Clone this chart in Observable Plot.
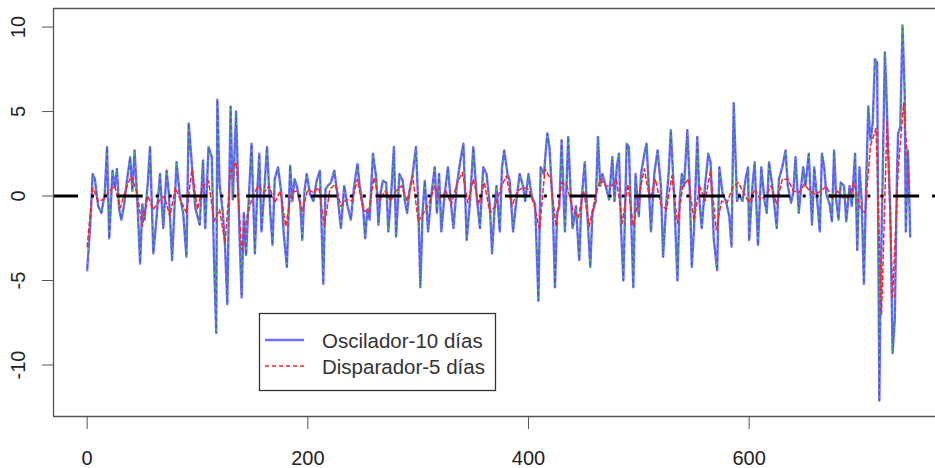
<!DOCTYPE html>
<html>
<head>
<meta charset="utf-8">
<script src="https://cdn.jsdelivr.net/npm/d3@7"></script>
<script src="https://cdn.jsdelivr.net/npm/@observablehq/plot@0.6"></script>
<style>
  html, body { margin: 0; padding: 0; background: #fff; }
  #chart { position: relative; width: 935px; height: 468px; }
</style>
</head>
<body>
<div id="chart"></div>
<script>
// Oscillator (10 days) – day index and value
const oscDays = [0,3,5,7,10,13,16,18,20,23,25,27,29,31,34,36,39,41,43,46,48,50,52,55,57,60,63,66,69,72,74,77,81,84,87,90,92,95,98,102,105,107,110,113,115,117,118,120,123,125,127,130,132,135,138,140,142,144,147,149,152,154,156,158,161,163,166,168,170,173,176,178,181,184,186,188,190,193,195,197,199,202,205,208,211,214,216,218,221,224,227,230,233,236,239,242,245,247,250,252,254,256,259,262,264,266,268,271,273,276,278,280,283,286,288,290,292,295,298,300,302,304,306,309,312,315,317,319,321,324,327,330,332,335,338,341,344,347,350,353,356,359,362,365,367,369,371,374,376,378,381,383,386,389,392,395,397,400,403,406,409,411,414,417,419,422,424,426,428,430,433,436,438,440,443,446,448,451,453,456,458,461,463,465,467,470,473,476,478,480,482,484,486,489,491,493,495,497,500,502,505,507,509,511,514,517,520,522,525,527,529,532,535,537,539,541,544,546,548,550,553,555,557,560,563,565,568,571,573,576,579,582,584,586,589,591,594,597,599,600,603,605,608,611,614,616,618,621,625,627,630,633,635,638,640,642,645,647,649,651,654,657,659,662,664,666,668,670,673,675,677,679,681,683,686,688,691,693,696,698,700,702,704,706,708,710,712,714,716,718,719,721,723,724,726,728,730,732,734,735,737,739,741,742,744,746];
const oscValues = [-4.4,-1.5,1.3,1.0,-0.6,-1.0,0.2,2.9,-2.5,1.5,0.5,1.6,-0.8,-1.4,-0.3,0.9,2.3,0.3,2.7,-1.0,-4.0,-0.5,-1.4,0.8,2.9,-3.4,-1.2,1.3,-1.9,1.5,0.2,-3.8,2.0,0.0,-1.0,-3.6,4.3,1.8,-0.7,-1.7,2.1,-1.9,2.9,2.3,-3.8,-8.1,5.7,0.7,-1.0,-3.0,-6.4,5.3,-0.2,5.0,-2.1,-6.0,-1.0,-3.5,0.5,3.1,-3.4,0.0,2.5,-2.1,0.8,2.9,-1.0,-2.9,1.0,1.7,0.2,-2.1,-4.2,1.8,-0.3,1.0,0.6,-0.4,-2.6,0.3,1.3,0.1,-0.3,0.9,1.5,-5.2,0.4,0.6,0.8,1.5,0.0,-1.9,0.6,-0.6,-1.4,0.6,1.9,0.6,-0.6,-2.5,-0.8,-1.4,2.5,1.1,-1.7,0.2,0.9,0.8,-2.1,0.6,2.9,-2.4,1.3,0.9,-0.3,-1.0,0.2,1.3,2.9,-0.3,-5.4,-1.0,0.9,-2.1,0.1,1.7,-1.0,1.3,-2.1,0.1,1.7,-0.6,-1.9,0.6,2.0,3.1,-2.6,-0.3,2.9,0.0,-1.9,1.7,1.3,-0.6,-3.4,-1.0,0.6,-2.1,1.7,2.7,1.3,0.9,-2.1,-0.3,1.3,0.6,-0.3,1.3,0.0,-0.5,-6.2,1.7,1.3,3.7,2.9,-0.6,-5.4,-1.0,-0.6,3.3,-2.1,3.5,0.5,-1.9,-0.6,-3.8,-0.3,2.0,-0.6,-4.2,-1.0,-0.3,3.5,0.6,1.3,0.6,-0.2,2.3,-0.3,1.7,2.5,-2.1,-5.0,3.1,2.9,-1.2,-5.4,1.3,-1.2,1.3,2.5,3.1,0.6,-2.1,1.3,2.7,0.6,-3.6,-0.3,1.3,3.9,0.0,-5.0,-0.3,1.3,0.6,3.9,0.8,-4.2,-2.0,3.5,-0.3,-1.9,0.6,2.5,2.0,-2.6,-4.4,1.7,0.1,-0.3,-1.2,-3.0,5.5,-0.3,0.1,-0.3,1.1,1.7,-2.6,0.6,2.0,-2.9,1.7,-0.3,-1.0,2.0,0.6,-1.9,1.0,1.7,2.7,0.6,-0.4,0.2,2.3,-1.0,0.5,1.7,0.6,2.5,-1.7,1.7,-0.5,-2.1,2.5,1.7,0.1,-0.5,-1.5,2.7,-0.3,-1.4,0.8,0.6,-1.5,0.6,-0.6,2.5,-3.2,1.7,-0.3,-5.2,0.6,5.3,3.3,4.3,8.1,7.9,-12.1,-5.8,1.1,8.5,6.9,2.7,-1.0,-9.3,-7.3,1.3,3.7,4.1,10.1,6.0,-2.1,2.7,-2.4];

// Trigger (5 days) – day index and value
const trigDays = [0,5,10,15,20,25,30,35,40,45,50,55,60,65,70,75,80,85,90,95,100,105,110,115,120,125,130,135,140,145,150,155,160,165,170,175,180,185,190,195,200,205,210,215,220,225,230,235,240,245,250,255,260,265,270,275,280,285,290,295,300,305,310,315,320,325,330,335,340,345,350,355,360,365,370,375,380,385,390,395,400,405,410,415,420,425,430,435,440,445,450,455,460,465,470,475,480,485,490,495,500,505,510,515,520,525,530,535,540,545,550,555,560,565,570,575,580,585,590,595,600,605,610,615,620,625,630,635,640,645,650,655,660,665,670,675,680,685,690,695,700,705,710,715,720,725,730,735,740,745];
const trigValues = [-3.0,0.5,-0.3,-0.2,0.3,0.6,-0.7,0.4,1.2,0.2,-1.8,0.0,-0.8,-0.3,0.0,-1.2,0.5,-0.3,-1.0,1.6,-0.8,0.6,0.9,-1.5,-0.8,-2.8,1.5,2.0,-3.2,-1.2,0.0,0.6,0.2,0.6,-0.4,0.3,-1.8,0.2,0.3,-0.9,0.4,0.2,0.5,-1.8,0.4,0.7,-0.6,-0.2,-0.3,1.0,-0.8,-1.0,1.1,-0.3,0.3,-0.3,0.3,0.6,-0.3,1.2,-1.5,-1.0,-0.4,0.6,-0.2,0.3,-0.5,0.7,1.4,-0.4,1.0,-0.5,0.8,-1.0,-0.6,0.5,1.2,-0.6,0.3,0.5,0.4,-0.5,-2.0,1.6,1.0,-1.8,0.8,0.6,-0.8,-1.3,0.3,-1.8,-0.2,1.0,0.6,0.6,0.9,-1.6,0.7,-1.8,0.0,1.6,-0.2,1.0,-0.5,-0.8,1.2,-1.6,0.6,1.0,-1.5,0.6,-0.3,1.5,-2.0,-0.3,-0.4,0.5,0.8,0.2,-0.4,0.4,-0.2,0.0,0.6,-0.5,1.0,1.0,0.3,0.2,0.7,0.3,0.1,0.3,0.6,-0.2,0.3,-0.1,-0.1,0.8,-0.6,-1.0,3.0,4.0,-7.0,4.5,-6.0,1.5,5.5,0.5];

const xTicks = [0, 200, 400, 600];
const yTicks = [-10, -5, 0, 5, 10];
const legendLabels = ["Oscilador-10 días", "Disparador-5 días"];

const osc = oscDays.map((d, i) => ({day: d, value: oscValues[i]}));
const trig = trigDays.map((d, i) => ({day: d, value: trigValues[i]}));

const xDomain = [-30.5, 768.9];
const yDomain = [-13.05, 11.1];
const frameColor = "#555";
const font = "'Liberation Sans', Arial, sans-serif";

const chart = Plot.plot({
  width: 935,
  height: 468,
  marginLeft: 53,
  marginRight: 0,
  marginTop: 8,
  marginBottom: 52,
  style: {fontFamily: font, background: "#fff", color: "#222"},
  x: {domain: xDomain},
  y: {domain: yDomain},
  marks: [
    Plot.line(osc, {x: "day", y: "value", stroke: "#6e6eff", strokeWidth: 2.4}),
    Plot.line(osc, {x: "day", y: "value", stroke: "#0000b0", strokeWidth: 0.8, strokeOpacity: 0.3}),
    Plot.line(osc, {x: "day", y: "value", stroke: "#33ee33", strokeWidth: 1.1, strokeDasharray: "1,6", strokeOpacity: 0.85}),
    Plot.line(trig, {x: "day", y: "value", stroke: "#ff2222", strokeWidth: 1.5, strokeDasharray: "4,3"}),
    Plot.ruleY([0], {stroke: "black", strokeWidth: 3, strokeDasharray: "26,13,3,10,3,9.7", strokeDashoffset: 1}),
    Plot.ruleX([xDomain[0]], {stroke: frameColor, strokeWidth: 1.3}),
    Plot.ruleY([yDomain[0], yDomain[1]], {stroke: frameColor, strokeWidth: 1.3}),
    Plot.axisX({ticks: xTicks, tickSize: 13, tickPadding: 21, fontSize: 20, label: null, stroke: frameColor, fill: "#222"}),
    Plot.axisY({ticks: yTicks, tickSize: 11, tickFormat: () => "", label: null, stroke: frameColor}),
    Plot.text(yTicks, {x: xDomain[0], y: d => d, text: d => String(d), rotate: -90, dx: -35, fontSize: 20, fill: "#222", textAnchor: "middle", lineAnchor: "middle"})
  ]
});

document.getElementById("chart").appendChild(chart);

// Legend box
const svg = d3.select(chart);
const lg = svg.append("g").attr("font-family", font).attr("text-anchor", "start");
lg.append("rect").attr("x", 259.5).attr("y", 313.5).attr("width", 236).attr("height", 77)
  .attr("fill", "#fff").attr("stroke", "#333").attr("stroke-width", 1.3);
lg.append("line").attr("x1", 265).attr("x2", 304).attr("y1", 340).attr("y2", 340)
  .attr("stroke", "#6e6eff").attr("stroke-width", 2.6);
lg.append("line").attr("x1", 265).attr("x2", 304).attr("y1", 366).attr("y2", 366)
  .attr("stroke", "#ff2222").attr("stroke-width", 1.5).attr("stroke-dasharray", "4,3");
lg.selectAll("text.lab").data(legendLabels).join("text")
  .attr("x", 322).attr("y", (d, i) => 348 + i * 25.5)
  .attr("text-anchor", "start")
  .attr("font-size", 20.5).attr("fill", "#333").text(d => d);
</script>
</body>
</html>
